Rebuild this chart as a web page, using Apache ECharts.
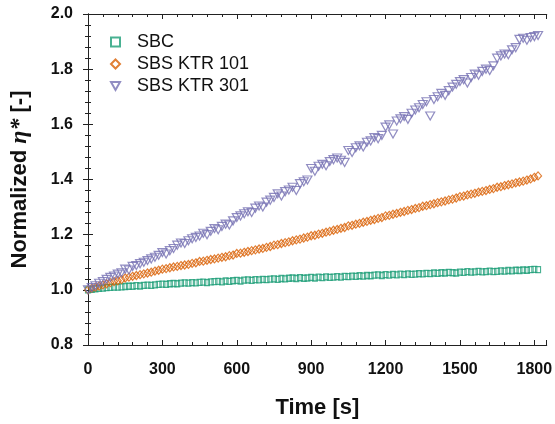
<!DOCTYPE html>
<html>
<head>
<meta charset="utf-8">
<script src="https://cdn.jsdelivr.net/npm/echarts@6/dist/echarts.min.js"></script>
<style>
  html, body { margin: 0; padding: 0; background: #fff; }
  #chart { width: 555px; height: 424px; }
</style>
</head>
<body>
<div id="chart"></div>
<script>
// time in seconds, one point every 15 s
var time = [
  0, 15, 30, 45, 60, 75, 90, 105, 120, 135,
  150, 165, 180, 195, 210, 225, 240, 255, 270, 285,
  300, 315, 330, 345, 360, 375, 390, 405, 420, 435,
  450, 465, 480, 495, 510, 525, 540, 555, 570, 585,
  600, 615, 630, 645, 660, 675, 690, 705, 720, 735,
  750, 765, 780, 795, 810, 825, 840, 855, 870, 885,
  900, 915, 930, 945, 960, 975, 990, 1005, 1020, 1035,
  1050, 1065, 1080, 1095, 1110, 1125, 1140, 1155, 1170, 1185,
  1200, 1215, 1230, 1245, 1260, 1275, 1290, 1305, 1320, 1335,
  1350, 1365, 1380, 1395, 1410, 1425, 1440, 1455, 1470, 1485,
  1500, 1515, 1530, 1545, 1560, 1575, 1590, 1605, 1620, 1635,
  1650, 1665, 1680, 1695, 1710, 1725, 1740, 1755, 1770, 1785,
  1800, 1815
];

var sbc = [
  1.000, 1.002, 1.004, 1.005, 1.006, 1.008, 1.009, 1.010, 1.010, 1.011,
  1.012, 1.013, 1.013, 1.015, 1.014, 1.016, 1.017, 1.016, 1.018, 1.020,
  1.021, 1.020, 1.022, 1.023, 1.022, 1.024, 1.025, 1.024, 1.026, 1.025,
  1.027, 1.028, 1.026, 1.029, 1.030, 1.031, 1.029, 1.032, 1.031, 1.033,
  1.034, 1.032, 1.035, 1.036, 1.034, 1.037, 1.036, 1.038, 1.037, 1.039,
  1.040, 1.038, 1.041, 1.040, 1.042, 1.043, 1.041, 1.044, 1.042, 1.043,
  1.045, 1.043, 1.046, 1.044, 1.047, 1.045, 1.046, 1.048, 1.046, 1.049,
  1.048, 1.050, 1.049, 1.051, 1.050, 1.052, 1.051, 1.053, 1.054, 1.052,
  1.055, 1.053, 1.056, 1.054, 1.057, 1.055, 1.058, 1.056, 1.057, 1.059,
  1.058, 1.060, 1.059, 1.061, 1.060, 1.062, 1.061, 1.063, 1.062, 1.061,
  1.064, 1.063, 1.066, 1.064, 1.065, 1.067, 1.065, 1.066, 1.068, 1.066,
  1.067, 1.069, 1.068, 1.070, 1.069, 1.071, 1.070, 1.072, 1.071, 1.073,
  1.074, 1.073
];

var ktr101 = [
  1.000, 1.005, 1.010, 1.014, 1.018, 1.022, 1.026, 1.030, 1.033, 1.037,
  1.043, 1.046, 1.049, 1.052, 1.055, 1.058, 1.061, 1.064, 1.068, 1.071,
  1.075, 1.077, 1.080, 1.083, 1.085, 1.088, 1.090, 1.092, 1.096, 1.098,
  1.103, 1.104, 1.107, 1.110, 1.112, 1.115, 1.118, 1.120, 1.124, 1.126,
  1.132, 1.133, 1.136, 1.139, 1.142, 1.145, 1.148, 1.150, 1.154, 1.157,
  1.162, 1.164, 1.168, 1.171, 1.174, 1.178, 1.181, 1.184, 1.188, 1.191,
  1.196, 1.198, 1.202, 1.205, 1.209, 1.212, 1.216, 1.219, 1.223, 1.226,
  1.232, 1.234, 1.238, 1.241, 1.245, 1.248, 1.252, 1.255, 1.259, 1.262,
  1.268, 1.270, 1.274, 1.277, 1.281, 1.284, 1.288, 1.291, 1.295, 1.298,
  1.303, 1.305, 1.309, 1.312, 1.316, 1.319, 1.322, 1.326, 1.329, 1.333,
  1.338, 1.340, 1.344, 1.347, 1.350, 1.354, 1.357, 1.360, 1.364, 1.367,
  1.372, 1.374, 1.378, 1.381, 1.384, 1.388, 1.391, 1.394, 1.398, 1.402,
  1.408, 1.413
];

var ktr301 = [
  1.000, 1.008, 1.015, 1.024, 1.030, 1.038, 1.045, 1.050, 1.057, 1.062,
  1.075, 1.072, 1.085, 1.088, 1.095, 1.100, 1.106, 1.112, 1.118, 1.125,
  1.135, 1.130, 1.142, 1.150, 1.162, 1.170, 1.168, 1.178, 1.185, 1.190,
  1.195, 1.205, 1.200, 1.212, 1.222, 1.218, 1.230, 1.238, 1.235, 1.250,
  1.262, 1.268, 1.276, 1.283, 1.280, 1.296, 1.304, 1.300, 1.318, 1.325,
  1.335, 1.348, 1.340, 1.356, 1.362, 1.372, 1.360, 1.385, 1.392, 1.398,
  1.440, 1.430, 1.448, 1.455, 1.450, 1.465, 1.472, 1.478, 1.470, 1.462,
  1.505, 1.498, 1.515, 1.522, 1.518, 1.535, 1.540, 1.552, 1.548, 1.560,
  1.590, 1.598, 1.565, 1.612, 1.620, 1.628, 1.618, 1.640, 1.652, 1.660,
  1.672, 1.682, 1.630, 1.690, 1.700, 1.712, 1.705, 1.722, 1.735, 1.745,
  1.755, 1.762, 1.750, 1.770, 1.782, 1.778, 1.792, 1.800, 1.795, 1.812,
  1.840, 1.848, 1.855, 1.852, 1.870, 1.878, 1.908, 1.912, 1.905, 1.915,
  1.918, 1.922
];

var seriesNames = ['SBC', 'SBS KTR 101', 'SBS KTR 301'];
var colors = ['#1b9e77', '#d95f02', '#7570b3'];

function pairs(ys) {
  return time.map(function (t, i) { return [t, ys[i]]; });
}

var chart = echarts.init(document.getElementById('chart'));

var axisLine = { show: true, lineStyle: { color: '#222', width: 1 } };
var tickIn = { show: true, inside: true, length: 5, lineStyle: { color: '#222' } };
var minorIn = { show: true, splitNumber: 5, length: 3, lineStyle: { color: '#222' } };
var labelFont = { fontFamily: 'Liberation Sans', fontWeight: 'bold', fontSize: 16, color: '#111' };

chart.setOption({
  animation: false,
  backgroundColor: '#fff',
  grid: { left: 83, right: 8, top: 14, bottom: 76 },
  legend: {
    left: 105,
    top: 28,
    orient: 'vertical',
    itemWidth: 9,
    itemHeight: 9,
    itemGap: 4,
    textStyle: { fontFamily: 'Liberation Sans', fontSize: 18, color: '#111', padding: [0, 0, 0, 12] },
    data: [
      { name: seriesNames[0], icon: 'rect' },
      { name: seriesNames[1], icon: 'diamond' },
      { name: seriesNames[2], icon: 'path://M0,0 L10,0 L5,9 Z' }
    ]
  },
  xAxis: [{
    type: 'value',
    min: 0, max: 1850, interval: 300,
    axisLine: axisLine,
    axisTick: tickIn,
    minorTick: minorIn,
    splitLine: { show: false },
    axisLabel: Object.assign({ margin: 17, showMaxLabel: false, formatter: function (v) { return String(v); } }, labelFont),
    name: 'Time [s]',
    nameLocation: 'middle',
    nameGap: 52,
    nameTextStyle: { fontFamily: 'Liberation Sans', fontWeight: 'bold', fontSize: 22, color: '#111' }
  }, {
    type: 'value', position: 'top',
    min: 0, max: 1850, interval: 300,
    axisLine: axisLine,
    axisTick: tickIn,
    minorTick: minorIn,
    splitLine: { show: false },
    axisLabel: { show: false }
  }],
  yAxis: [{
    type: 'value',
    min: 0.8, max: 2.0, interval: 0.2,
    axisLine: axisLine,
    axisTick: tickIn,
    minorTick: minorIn,
    splitLine: { show: false },
    axisLabel: Object.assign({ margin: 15, formatter: function (v) { return v.toFixed(1); } }, labelFont),
    name: '{b|Normalized }{i|η*}{b| [-]}',
    nameLocation: 'middle',
    nameGap: 56,
    nameTextStyle: {
      rich: {
        b: { fontFamily: 'Liberation Sans', fontWeight: 'bold', fontSize: 22, color: '#111' },
        i: { fontFamily: 'Liberation Serif', fontStyle: 'italic', fontWeight: 'bold', fontSize: 24, color: '#111' }
      }
    }
  }, {
    type: 'value', position: 'right',
    min: 0.8, max: 2.0, interval: 0.2,
    axisLine: axisLine,
    axisTick: tickIn,
    minorTick: minorIn,
    splitLine: { show: false },
    axisLabel: { show: false }
  }],
  series: [{
    name: seriesNames[0],
    type: 'scatter',
    symbol: 'rect',
    symbolSize: [5, 6],
    itemStyle: { color: 'rgba(255,255,255,0)', borderColor: colors[0], borderWidth: 1.2 },
    data: pairs(sbc)
  }, {
    name: seriesNames[1],
    type: 'scatter',
    symbol: 'diamond',
    symbolSize: [7, 8],
    itemStyle: { color: 'rgba(255,255,255,0)', borderColor: colors[1], borderWidth: 1.2 },
    data: pairs(ktr101)
  }, {
    name: seriesNames[2],
    type: 'scatter',
    symbol: 'triangle',
    symbolRotate: 180,
    symbolSize: [9, 8],
    itemStyle: { color: 'rgba(255,255,255,0)', borderColor: colors[2], borderWidth: 1.2 },
    data: pairs(ktr301)
  }]
});
</script>
</body>
</html>
